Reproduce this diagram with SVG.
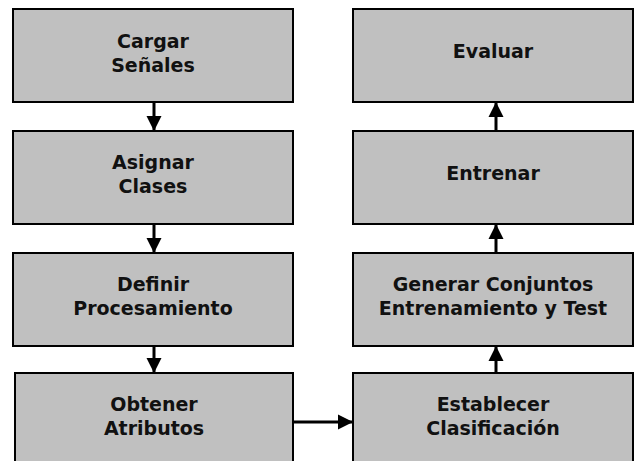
<svg xmlns="http://www.w3.org/2000/svg" width="635" height="461" viewBox="0 0 635 461">
<style>
.box{fill:#c0c0c0;stroke:#000;stroke-width:2}
.t{font-family:"DejaVu Sans",Verdana,sans-serif;font-weight:bold;font-size:19px;fill:#111;text-anchor:middle}
.c{stroke:#000;stroke-width:3;fill:none}
</style>
<defs>
<marker id="ah" markerUnits="userSpaceOnUse" markerWidth="16" markerHeight="16" viewBox="0 0 16 16" refX="15" refY="8" orient="auto">
<path d="M0,0.5 L15,8 L0,15.5 Z" fill="#000"/>
</marker>
</defs>
<rect width="635" height="461" fill="#fff"/>
<g id="n1"><rect class="box" x="13" y="9" width="280" height="93"/><text class="t" x="153" y="47.5">Cargar</text><text class="t" x="153" y="71.5">Señales</text></g>
<g id="n2"><rect class="box" x="13" y="131" width="280" height="93"/><text class="t" x="153" y="169">Asignar</text><text class="t" x="153" y="193">Clases</text></g>
<g id="n3"><rect class="box" x="13" y="253" width="280" height="93"/><text class="t" x="153" y="291">Definir</text><text class="t" x="153" y="315">Procesamiento</text></g>
<g id="n4"><rect class="box" x="15" y="373" width="278" height="93"/><text class="t" x="154" y="411">Obtener</text><text class="t" x="154" y="435">Atributos</text></g>
<g id="n5"><rect class="box" x="353" y="373" width="280" height="93"/><text class="t" x="493" y="411">Establecer</text><text class="t" x="493" y="435">Clasificación</text></g>
<g id="n6"><rect class="box" x="353" y="253" width="280" height="93"/><text class="t" x="493" y="291">Generar Conjuntos</text><text class="t" x="493" y="315">Entrenamiento y Test</text></g>
<g id="n7"><rect class="box" x="353" y="131" width="280" height="93"/><text class="t" x="493" y="180">Entrenar</text></g>
<g id="n8"><rect class="box" x="353" y="9" width="280" height="93"/><text class="t" x="493" y="58">Evaluar</text></g>
<g id="connectors">
<line class="c" x1="154" y1="102" x2="154" y2="131" marker-end="url(#ah)"/>
<line class="c" x1="154" y1="224" x2="154" y2="253" marker-end="url(#ah)"/>
<line class="c" x1="154" y1="346" x2="154" y2="373" marker-end="url(#ah)"/>
<line class="c" x1="293" y1="422" x2="353" y2="422" marker-end="url(#ah)"/>
<line class="c" x1="496" y1="373" x2="496" y2="346" marker-end="url(#ah)"/>
<line class="c" x1="496" y1="253" x2="496" y2="224" marker-end="url(#ah)"/>
<line class="c" x1="496" y1="131" x2="496" y2="102" marker-end="url(#ah)"/>
</g>
</svg>
